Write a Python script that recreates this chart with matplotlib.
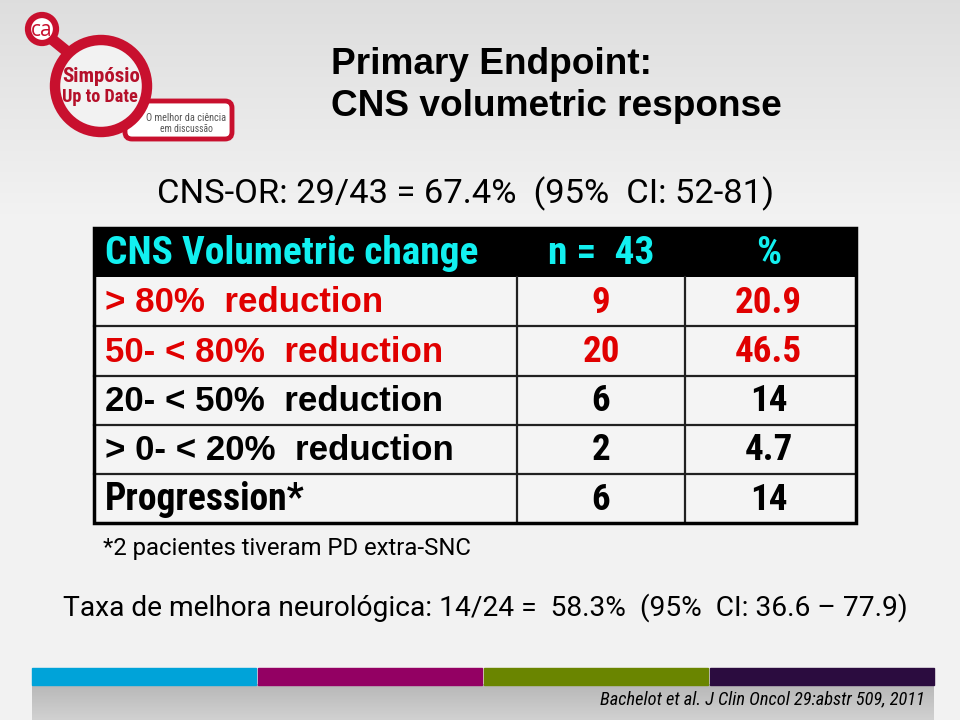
import matplotlib
matplotlib.use("Agg")
import matplotlib.pyplot as plt
import numpy as np
from matplotlib.patches import Rectangle, Circle, FancyBboxPatch

# ---------------- data ----------------
title_lines = ["Primary Endpoint:", "CNS volumetric response"]
subtitle = "CNS-OR: 29/43 = 67.4%  (95%  CI: 52-81)"
header = ["CNS Volumetric change", "n =  43", "%"]
categories = ["> 80%  reduction", "50- < 80%  reduction", "20- < 50%  reduction",
              "> 0- < 20%  reduction", "Progression*"]
n_values = [9, 20, 6, 2, 6]
pct_values = ["20.9", "46.5", "14", "4.7", "14"]
footnote = "*2 pacientes tiveram PD extra-SNC"
neuro_text = "Taxa de melhora neurológica: 14/24 =  58.3%  (95%  CI: 36.6 \u2013 77.9)"
citation = "Bachelot et al. J Clin Oncol 29:abstr 509, 2011"

# ---------------- style ----------------
COND = ["Roboto Condensed", "DejaVu Sans"]
ROB = ["Roboto", "DejaVu Sans"]
SANS = ["Liberation Sans", "DejaVu Sans"]
row_colors = ["#e00000", "#e00000", "black", "black", "black"]

fig = plt.figure(figsize=(9.6, 7.2), dpi=100)
ax = fig.add_axes([0, 0, 1, 1])
ax.set_xlim(0, 960)
ax.set_ylim(720, 0)
ax.axis("off")
renderer = fig.canvas.get_renderer()


def fit(t, target):
    w = t.get_window_extent(renderer).width
    t.set_fontsize(t.get_fontsize() * target / w)
    return t.get_fontsize()


# background gradient
grad = np.linspace(0, 1, 256).reshape(-1, 1)
bg = np.ones((256, 1, 3))
top = np.array([0.87, 0.87, 0.87])
mid = np.array([0.95, 0.95, 0.95])
w = np.clip(grad / 0.3, 0, 1)
bg[:, 0, :] = top * (1 - w) + mid * w
ax.imshow(bg, extent=[0, 960, 720, 0], aspect="auto", zorder=0)

# bottom gray band
g2 = np.linspace(0, 1, 64).reshape(-1, 1)
band = np.ones((64, 1, 3))
c1 = np.array([0.72, 0.72, 0.72]); c2 = np.array([0.82, 0.82, 0.82])
band[:, 0, :] = c1 * (1 - g2) + c2 * g2
ax.imshow(band, extent=[32, 934, 720, 684], aspect="auto", zorder=1)

# colour bars
bar_colors = ["#00a3d9", "#930063", "#6a8500", "#2b0c3f"]
bx = [32, 258, 484, 710]
for x0, c in zip(bx, bar_colors):
    ax.add_patch(Rectangle((x0, 668), 224, 17, color=c, zorder=2))

# ---------------- logo ----------------
red = "#c8102e"
ax.plot([48, 75], [36, 58], color=red, lw=8, zorder=3, solid_capstyle="round")
ax.add_patch(Circle((42, 29), 14, facecolor="white", edgecolor=red, lw=4.5, zorder=4))
ax.add_patch(FancyBboxPatch((125, 101), 107, 38, boxstyle="round,pad=0,rounding_size=7",
                            facecolor="white", edgecolor=red, lw=3.5, zorder=3))
ax.add_patch(Circle((101, 86), 46, facecolor="#f2f2f2", edgecolor=red, lw=7.5, zorder=4))
ax.text(42, 30, "ca", fontsize=15, color=red, ha="center", va="center",
        family=["Open Sans", "DejaVu Sans"], zorder=5)
t = ax.text(101, 77, "Simpósio", fontsize=14, color="#b5102a", ha="center", va="center",
            family=COND, weight="bold", zorder=5)
fit(t, 78)
t = ax.text(100, 97, "Up to Date", fontsize=14, color="#b5102a", ha="center", va="center",
            family=COND, weight="bold", zorder=5)
fit(t, 76)
t = ax.text(186, 118, "O melhor da ciência", fontsize=7, color="#555555", ha="center",
            va="center", family=COND, zorder=5)
fit(t, 81)
t = ax.text(186, 129, "em discussão", fontsize=7, color="#555555", ha="center",
            va="center", family=COND, zorder=5)
fit(t, 53)

# ---------------- titles ----------------
t1 = ax.text(331, 64, title_lines[0], fontsize=25, weight="bold", family=SANS,
             ha="left", va="center", color="black")
t2 = ax.text(331, 107, title_lines[1], fontsize=25, weight="bold", family=SANS,
             ha="left", va="center", color="black")
fs = fit(t2, 451)
t1.set_fontsize(fs)
t = ax.text(157, 194, subtitle, fontsize=21, family=ROB, ha="left", va="center")
fit(t, 616)

# ---------------- table ----------------
x_left, x_d1, x_d2, x_right = 94, 517, 685, 856
y_top = 228
row_h = 49.2
n_rows = len(categories)
y_bottom = y_top + row_h * (n_rows + 1)

ax.add_patch(Rectangle((x_left, y_top + row_h), x_right - x_left, row_h * n_rows,
                       facecolor="#f4f4f4", edgecolor="none", zorder=2))
ax.add_patch(Rectangle((x_left, y_top), x_right - x_left, row_h,
                       facecolor="black", edgecolor="none", zorder=3))
for i in range(1, n_rows):
    y = y_top + row_h * (i + 1)
    ax.plot([x_left, x_right], [y, y], color="#202020", lw=1.6, zorder=4)
for xd in (x_d1, x_d2):
    ax.plot([xd, xd], [y_top + row_h, y_bottom], color="#202020", lw=1.6, zorder=4)
ax.add_patch(Rectangle((x_left, y_top), x_right - x_left, y_bottom - y_top,
                       facecolor="none", edgecolor="black", lw=2.5, zorder=5))

c2x = (x_d1 + x_d2) / 2
c3x = (x_d2 + x_right) / 2 - 2
hy = y_top + row_h / 2 + 1
cyan = "#12f0f0"
th = ax.text(105, hy, header[0], fontsize=21, weight="bold", family=COND, color=cyan,
             ha="left", va="center", zorder=6)
hfs = fit(th, 373)
ax.text(c2x, hy, header[1], fontsize=hfs, weight="bold", family=COND, color=cyan,
        ha="center", va="center", zorder=6)
ax.text(c3x, hy, header[2], fontsize=hfs, weight="bold", family=COND, color=cyan,
        ha="center", va="center", zorder=6)

probe = ax.text(0, -100, categories[1], fontsize=19, weight="bold", family=SANS)
lfs = fit(probe, 339)
probe.remove()
probe = ax.text(0, -100, categories[4], fontsize=19, weight="bold", family=COND)
pfs = fit(probe, 200)
probe.remove()
vfs = hfs * 0.94

for i, (cat, n, p, col) in enumerate(zip(categories, n_values, pct_values, row_colors)):
    y = y_top + row_h * (i + 1) + row_h / 2 + 1
    if cat.startswith("Progression"):
        ax.text(105, y, cat, fontsize=pfs, weight="bold", family=COND, color=col,
                ha="left", va="center", zorder=6)
    else:
        ax.text(105, y, cat, fontsize=lfs, weight="bold", family=SANS, color=col,
                ha="left", va="center", zorder=6)
    ax.text(c2x, y, str(n), fontsize=vfs, weight="bold", family=COND, color=col,
            ha="center", va="center", zorder=6)
    ax.text(c3x, y, p, fontsize=vfs, weight="bold", family=COND, color=col,
            ha="center", va="center", zorder=6)

t = ax.text(103, 549, footnote, fontsize=14, family=ROB, ha="left", va="center")
fit(t, 370)
t = ax.text(63, 608, neuro_text, fontsize=19.5, family=ROB, ha="left", va="center")
fit(t, 847)
t = ax.text(925, 699, citation, fontsize=12, family=COND, style="italic",
            ha="right", va="center")
fit(t, 325)

fig.savefig("out.png", dpi=100)
